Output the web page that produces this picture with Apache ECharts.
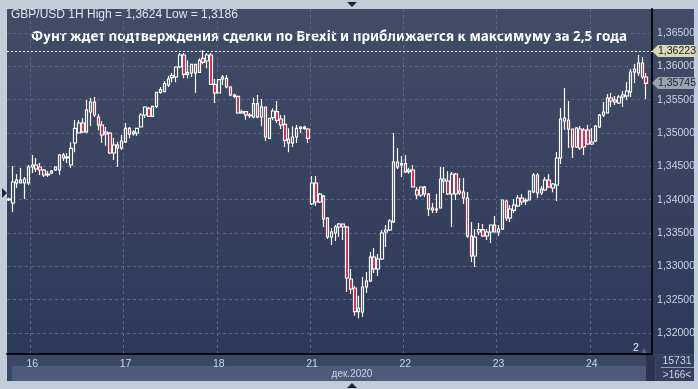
<!DOCTYPE html>
<html><head><meta charset="utf-8">
<script src="https://cdn.jsdelivr.net/npm/echarts@6/dist/echarts.min.js"></script>
<style>html,body{margin:0;padding:0;background:#c3cdd9;}#c{width:698px;height:389px;}</style>
</head><body><div id="c"></div>
<script>
// ---- data ----
const sessions = [[15,18,24],[16,0,24],[17,0,24],[18,0,24],[21,0,24],[22,0,24],[23,0,24],[24,0,15]];
const open = [1.33995,1.3395,1.3425,1.34295,1.3425,1.3425,1.3449,1.3452,1.3449,1.34445,
1.3437,1.344,1.34445,1.34445,1.3467,1.34625,1.3452,1.3485,1.35,1.3515,
1.35015,1.35315,1.35465,1.3524,1.3512,1.35015,1.35,1.347,1.3482,1.34775,
1.34865,1.3507,1.3499,1.35,1.3509,1.3527,1.3537,1.3525,1.354,1.3561,
1.3562,1.3572,1.3583,1.3584,1.3599,1.3617,1.3591,1.359,1.3603,1.3591,
1.3612,1.3608,1.3617,1.3573,1.356,1.3581,1.3582,1.3569,1.3557,1.3555,
1.353,1.3532,1.3527,1.3524,1.3544,1.3524,1.3539,1.3492,1.3523,1.3532,
1.3521,1.3513,1.3491,1.3485,1.3494,1.3507,1.3509,1.3506,1.33935,1.3425,
1.33965,1.34055,1.33725,1.3344,1.335,1.3359,1.33635,1.3359,1.3281,1.32675,
1.3232,1.32315,1.3269,1.3278,1.3314,1.3296,1.3311,1.33515,1.33545,1.33665,
1.3449,1.3452,1.3454,1.3442,1.34445,1.34145,1.3407,1.3419,1.34085,1.33875,
1.33845,1.33875,1.3428,1.3428,1.34085,1.34385,1.341,1.34115,1.34025,1.33455,
1.33155,1.33515,1.3355,1.33455,1.33515,1.3362,1.33515,1.3356,1.3398,1.33725,
1.3384,1.33905,1.34025,1.3398,1.33995,1.34115,1.3437,1.341,1.34145,1.34295,
1.34175,1.3422,1.34625,1.3518,1.35195,1.3506,1.3479,1.3506,1.35045,1.35045,
1.34835,1.3488,1.3509,1.3527,1.353,1.35525,1.35495,1.3545,1.3554,1.35555,
1.35615,1.35915,1.359,1.3605,1.3584];
const close = [1.3401,1.34265,1.34295,1.3425,1.3431,1.3449,1.3452,1.3446,1.34445,1.3437,
1.34385,1.3443,1.3449,1.3467,1.34625,1.3464,1.3477,1.3507,1.3515,1.35015,
1.35345,1.35465,1.3527,1.3512,1.3497,1.34985,1.347,1.3482,1.34775,1.3488,
1.3507,1.3498,1.35015,1.3507,1.3527,1.3539,1.3525,1.354,1.3561,1.3565,
1.3574,1.3581,1.3586,1.3599,1.3617,1.3588,1.3588,1.3603,1.359,1.3609,
1.3606,1.3617,1.3573,1.356,1.358,1.3584,1.3569,1.3557,1.3555,1.353,
1.3532,1.3527,1.3526,1.3544,1.3524,1.3539,1.3494,1.3522,1.3533,1.3519,
1.3512,1.3489,1.3485,1.3494,1.3507,1.3509,1.3507,1.3492,1.3425,1.33965,
1.34085,1.3371,1.3344,1.33515,1.3359,1.33635,1.3359,1.32825,1.3266,1.3232,
1.32375,1.3269,1.3278,1.3314,1.3296,1.3311,1.335,1.33545,1.3368,1.34565,
1.34565,1.3454,1.34415,1.34445,1.3419,1.3407,1.3419,1.34085,1.3386,1.33845,
1.3386,1.3431,1.3431,1.34085,1.34385,1.34085,1.3413,1.34025,1.33455,1.33155,
1.3344,1.3355,1.33455,1.33515,1.3362,1.33515,1.3356,1.33995,1.33725,1.3386,
1.3392,1.34025,1.33965,1.33995,1.3413,1.3437,1.341,1.3416,1.34295,1.3419,
1.34235,1.34625,1.3521,1.35225,1.3506,1.3479,1.35075,1.34775,1.3479,1.34835,
1.34865,1.35105,1.3527,1.35315,1.35525,1.3548,1.35465,1.3554,1.3557,1.3563,
1.35915,1.3596,1.3605,1.3584,1.35745];
const low = [1.3398,1.33815,1.34175,1.3425,1.3401,1.3422,1.344,1.34415,1.3437,1.3434,
1.3434,1.3438,1.3443,1.3437,1.3458,1.3455,1.34475,1.3471,1.35,1.35,
1.35,1.35105,1.3524,1.3504,1.3485,1.3481,1.34685,1.34595,1.3449,1.34745,
1.3485,1.3492,1.3496,1.3496,1.3509,1.35225,1.3524,1.3524,1.35375,1.3559,
1.3561,1.3569,1.3576,1.3576,1.3597,1.3582,1.3582,1.3584,1.356,1.359,
1.3603,1.3597,1.3572,1.3545,1.356,1.3572,1.3567,1.3555,1.3552,1.3529,
1.3529,1.352,1.3523,1.3522,1.3522,1.351,1.3488,1.3491,1.3519,1.3515,
1.3506,1.3479,1.3471,1.3479,1.3485,1.35,1.3505,1.3485,1.3392,1.33905,
1.3395,1.3359,1.3341,1.3332,1.3338,1.3344,1.33395,1.32615,1.32585,1.3226,
1.3222,1.3224,1.326,1.32765,1.329,1.32855,1.33095,1.3329,1.3353,1.3365,
1.3446,1.3434,1.344,1.3439,1.3419,1.3401,1.3404,1.3404,1.33755,1.338,
1.338,1.33875,1.341,1.3407,1.3359,1.33995,1.3407,1.33935,1.33425,1.33065,
1.3299,1.3347,1.3344,1.33395,1.3335,1.33515,1.33455,1.33545,1.3368,1.33665,
1.338,1.3389,1.3392,1.3392,1.33995,1.341,1.34025,1.3407,1.3413,1.34175,
1.3411,1.3398,1.34535,1.35045,1.34775,1.34625,1.34775,1.34745,1.3467,1.3482,
1.3482,1.34865,1.35075,1.3524,1.353,1.3539,1.3542,1.35435,1.3539,1.35495,
1.3554,1.3575,1.35855,1.3581,1.3551];
const high = [1.3403,1.34505,1.34385,1.34475,1.3434,1.3452,1.3467,1.34625,1.3455,1.3446,
1.3443,1.34445,1.345,1.34685,1.347,1.347,1.3486,1.35195,1.35195,1.35225,
1.35495,1.35525,1.3554,1.35285,1.3518,1.3509,1.35015,1.34925,1.3487,1.3497,
1.3515,1.3509,1.3504,1.3507,1.353,1.354,1.3539,1.354,1.3561,1.3569,
1.3578,1.3586,1.359,1.3599,1.362,1.362,1.3609,1.3603,1.3603,1.3612,
1.3624,1.362,1.362,1.3581,1.3581,1.3587,1.3587,1.357,1.3559,1.3555,
1.3535,1.3532,1.353,1.3553,1.3557,1.3551,1.3539,1.3522,1.3537,1.3548,
1.3527,1.3527,1.3507,1.351,1.3512,1.351,1.3511,1.3507,1.34355,1.34355,
1.341,1.3407,1.3374,1.33575,1.3362,1.3365,1.33635,1.33605,1.3296,1.3271,
1.3256,1.3284,1.32915,1.33215,1.33275,1.33185,1.33545,1.3362,1.3371,1.35,
1.34775,1.34655,1.3467,1.3448,1.3452,1.3419,1.3419,1.34205,1.341,1.3395,
1.34085,1.3449,1.3449,1.3443,1.34415,1.344,1.34325,1.34325,1.34115,1.33665,
1.3356,1.3365,1.33635,1.3356,1.3362,1.33755,1.3362,1.33995,1.33995,1.3392,
1.3401,1.3407,1.34085,1.34025,1.3413,1.344,1.344,1.34205,1.3434,1.34385,
1.3425,1.34715,1.35375,1.35675,1.3548,1.3506,1.3509,1.35105,1.35075,1.3512,
1.35075,1.3512,1.35285,1.35465,1.35585,1.356,1.35555,1.3557,1.3563,1.35765,
1.3596,1.36035,1.3617,1.3614,1.359];
const yTicks = [1.32,1.325,1.33,1.335,1.34,1.345,1.35,1.355,1.36,1.365];
const highLine = 1.36223;
const headerText = 'GBP/USD 1H High = 1,3624 Low = 1,3186';
const titleText = 'Фунт ждет подтверждения сделки по Brexit и приближается к максимуму за 2,5 года';
const monthLabel = 'дек.2020';
const barsTotal = '15731';
const barsVisible = '>166<';
const windowNo = '2';

// ---- build ----
const categories = [];
sessions.forEach(([d, h0, h1]) => { for (let h = h0; h < h1; h++) categories.push(d + ' ' + h + ':00'); });
const axisCats = categories.concat(['']);
const candles = open.map((o, i) => [o, close[i], low[i], high[i]]);
const lastClose = close[close.length - 1];
const isDayStart = v => / 0:00$/.test(v);
const fmt = v => v.toFixed(5).replace('.', ',');
const FONT = 'Liberation Sans';
const LBL = '#c9d4e6';

const chart = echarts.init(document.getElementById('c'), null, {renderer: 'canvas'});
const bgGrad = new echarts.graphic.LinearGradient(0, 0, 0, 1, [{offset: 0, color: '#414c66'}, {offset: 1, color: '#2c3959'}]);

const option = {
  animation: false,
  backgroundColor: '#c3cdd9',
  grid: {left: 7, right: 43, top: 9, bottom: 35},
  xAxis: {
    type: 'category', data: axisCats, boundaryGap: true,
    axisLine: {show: true, lineStyle: {color: '#070a12', width: 2}},
    axisTick: {show: false},
    axisLabel: {interval: (i, v) => isDayStart(v), formatter: v => isDayStart(v) ? v.split(' ')[0] : '',
      color: LBL, fontSize: 10.5, fontFamily: FONT, margin: 5},
    splitLine: {show: true, interval: (i, v) => isDayStart(v), lineStyle: {color: '#5a6886', type: [3, 3], width: 1}}
  },
  yAxis: {
    type: 'value', position: 'right', min: 1.31685, max: 1.3686, scale: true,
    axisLine: {show: true, lineStyle: {color: '#070a12', width: 2}},
    axisTick: {show: false, customValues: yTicks},
    axisLabel: {customValues: yTicks, formatter: fmt, color: LBL, fontSize: 10.5, fontFamily: FONT, margin: 5},
    splitLine: {show: true, lineStyle: {color: '#5a6886', type: [3, 3], width: 1}}
  },
  series: [{
    type: 'candlestick', data: candles, barWidth: 3,
    itemStyle: {color: '#34415f', color0: '#e0163c', borderColor: '#ffffff', borderColor0: '#ffffff', borderWidth: 1.2}
  }],
  graphic: [
    {type: 'rect', z: -1, silent: true, shape: {x: 7, y: 9, width: 687, height: 345}, style: {fill: bgGrad}},
    {type: 'rect', z: -1, silent: true, shape: {x: 7, y: 354, width: 687, height: 27}, style: {fill: '#3a4866'}},
    {type: 'rect', z: -1, silent: true, shape: {x: 12, y: 366, width: 634, height: 15}, style: {fill: '#4b5b79'}},
    {type: 'rect', z: -1, silent: true, shape: {x: 646, y: 355, width: 9, height: 26}, style: {fill: '#2a3550'}},
    {type: 'rect', z: -1, silent: true, shape: {x: 656, y: 355, width: 38, height: 26}, style: {fill: '#33405d'}},
    {type: 'line', silent: true, shape: {x1: 661, y1: 367.5, x2: 694, y2: 367.5}, style: {stroke: '#8d9ab0', lineWidth: 1}},
    {type: 'text', silent: true, x: 11, y: 9, style: {text: headerText, fill: '#dfe6f0', fontSize: 12, fontFamily: FONT}},
    {type: 'text', silent: true, x: 329, y: 37, style: {text: titleText, fill: '#ffffff', fontSize: 13.5, fontWeight: 'bold',
      fontFamily: 'Noto Sans', align: 'center', verticalAlign: 'middle'}},
    {type: 'text', silent: true, x: 352, y: 374, style: {text: monthLabel, fill: LBL, fontSize: 10, fontFamily: FONT, align: 'center', verticalAlign: 'middle'}},
    {type: 'text', silent: true, x: 677, y: 361, style: {text: barsTotal, fill: LBL, fontSize: 10.5, fontFamily: FONT, align: 'center', verticalAlign: 'middle'}},
    {type: 'text', silent: true, x: 677, y: 375, style: {text: barsVisible, fill: LBL, fontSize: 10, fontFamily: FONT, align: 'center', verticalAlign: 'middle'}},
    {type: 'text', silent: true, x: 636, y: 348, style: {text: windowNo, fill: '#e8eef6', fontSize: 10.5, fontFamily: FONT, align: 'center', verticalAlign: 'middle'}},
    {type: 'polygon', silent: true, shape: {points: [[641, 353], [644, 348], [647, 353]]}, style: {fill: '#56637c'}},
    {type: 'polygon', silent: true, shape: {points: [[347, 2], [357, 2], [352, 7]]}, style: {fill: '#1b2640'}},
    {type: 'polygon', silent: true, shape: {points: [[347, 388], [357, 388], [352, 383]]}, style: {fill: '#1b2640'}},
    {type: 'polygon', silent: true, shape: {points: [[2, 188], [2, 198], [7, 193]]}, style: {fill: '#1b2640'}}
  ]
};
chart.setOption(option);

// high line and price tags placed through the axis scale
const extra = [];
const yHigh = Math.round(chart.convertToPixel({yAxisIndex: 0}, highLine)) + 0.5;
extra.push({type: 'line', silent: true, z: 4, shape: {x1: 7, y1: yHigh, x2: 655, y2: yHigh},
  style: {stroke: '#ffffff', lineWidth: 1, lineDash: [2, 2]}});
[[highLine, '#dcd7b4', '#1c1c1c'], [lastClose, '#9aa3b1', '#1c2436']].forEach(([v, bg, fg]) => {
  const y = Math.round(chart.convertToPixel({yAxisIndex: 0}, v));
  extra.push({type: 'polygon', silent: true, z: 5, shape: {points: [[652, y], [658, y - 6], [695, y - 6], [695, y + 6], [658, y + 6]]}, style: {fill: bg}});
  extra.push({type: 'text', silent: true, z: 6, x: 677, y: y, style: {text: fmt(v), fill: fg, fontSize: 10.5, fontFamily: FONT, align: 'center', verticalAlign: 'middle'}});
});
chart.setOption({graphic: option.graphic.concat(extra)});
</script>
</body></html>
